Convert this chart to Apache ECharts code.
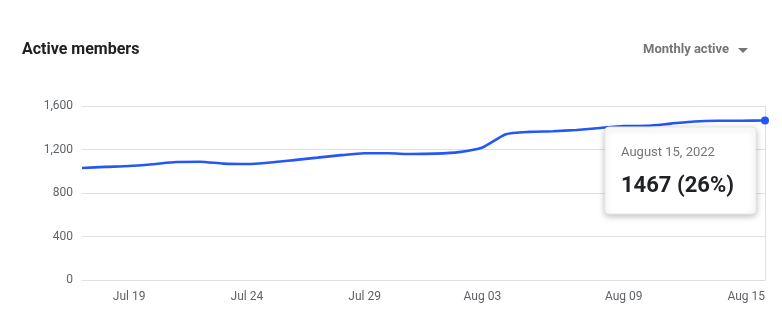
<!DOCTYPE html>
<html>
<head>
<meta charset="utf-8">
<script src="https://cdn.jsdelivr.net/npm/echarts@6/dist/echarts.min.js"></script>
<style>
html,body{margin:0;padding:0;background:#fff;}
#c{width:782px;height:319px;}
</style>
</head>
<body>
<div id="c"></div>
<script>
const dates = ["Jul 17","Jul 18","Jul 19","Jul 20","Jul 21","Jul 22","Jul 23","Jul 24","Jul 25","Jul 26",
  "Jul 27","Jul 28","Jul 29","Jul 30","Jul 31","Aug 01","Aug 02","Aug 03","Aug 04","Aug 05",
  "Aug 06","Aug 07","Aug 08","Aug 09","Aug 10","Aug 11","Aug 12","Aug 13","Aug 14","Aug 15"];
const members = [1030,1040,1048,1065,1085,1088,1070,1066,1080,1102,
  1125,1148,1165,1165,1158,1162,1176,1218,1340,1362,
  1368,1380,1398,1415,1418,1438,1458,1464,1464,1467];
const shownLabels = ["Jul 19","Jul 24","Jul 29","Aug 03","Aug 09","Aug 15"];
const yTicks = [0,400,800,1200,1600];
const tooltipDate = "August 15, 2022";
const tooltipPct = "26%";

const chart = echarts.init(document.getElementById('c'));
const last = members.length - 1;
const seriesData = members.map((v,i)=> i===last ? {value:v, symbol:'circle', symbolSize:8} : v);
const font = 'Roboto, "Noto Sans", sans-serif';

chart.setOption({
  animation:false,
  textStyle:{fontFamily:font},
  grid:{left:82,right:17,top:106,bottom:39,containLabel:false},
  xAxis:{
    type:'category',data:dates,boundaryGap:false,
    axisLine:{show:true,lineStyle:{color:'#e0e0e0',width:1}},
    axisTick:{show:false},
    axisLabel:{
      interval:(i,v)=>shownLabels.indexOf(v)>=0,
      color:'#5f6368',fontSize:12,fontFamily:font,margin:11,
      alignMaxLabel:'right'
    },
    splitLine:{show:false}
  },
  yAxis:[{
    type:'value',min:yTicks[0],max:yTicks[yTicks.length-1],interval:400,
    axisLine:{show:false},axisTick:{show:false},
    axisLabel:{color:'#5f6368',fontSize:12,fontFamily:font,margin:9,
      formatter:v=>v.toLocaleString('en-US')},
    splitLine:{lineStyle:{color:'#e0e0e0',width:1}}
  },{
    type:'value',min:yTicks[0],max:yTicks[yTicks.length-1],interval:400,position:'right',
    axisLine:{show:true,lineStyle:{color:'#e0e0e0'}},axisTick:{show:false},
    axisLabel:{show:false},splitLine:{show:false}
  }],
  series:[{
    type:'line',data:seriesData,smooth:0.2,symbol:'none',
    lineStyle:{color:'#2457f5',width:2.6},
    itemStyle:{color:'#2457f5'}
  }],
  graphic:[
    {type:'text',left:22,top:42,style:{text:'Active members',fontSize:16,fontWeight:'bold',fill:'#202124',fontFamily:font}},
    {type:'text',left:643,top:43,style:{text:'Monthly active',fontSize:13,fontWeight:'bold',fill:'#757575',fontFamily:font}},
    {type:'polygon',shape:{points:[[738,48],[748,48],[743,53]]},style:{fill:'#757575'}},
    {type:'rect',shape:{x:605,y:127,width:151,height:87,r:4},
      style:{fill:'#fff',stroke:'#e8e8e8',lineWidth:1,shadowBlur:6,shadowColor:'rgba(0,0,0,0.25)',shadowOffsetY:2},z:100},
    {type:'text',left:621,top:146,z:101,style:{text:tooltipDate,fontSize:13,fill:'#757575',fontFamily:font}},
    {type:'text',left:621,top:175,z:101,style:{text:members[last]+' ('+tooltipPct+')',fontSize:22,fontWeight:'bold',fill:'#202124',fontFamily:font}}
  ]
});
</script>
</body>
</html>
